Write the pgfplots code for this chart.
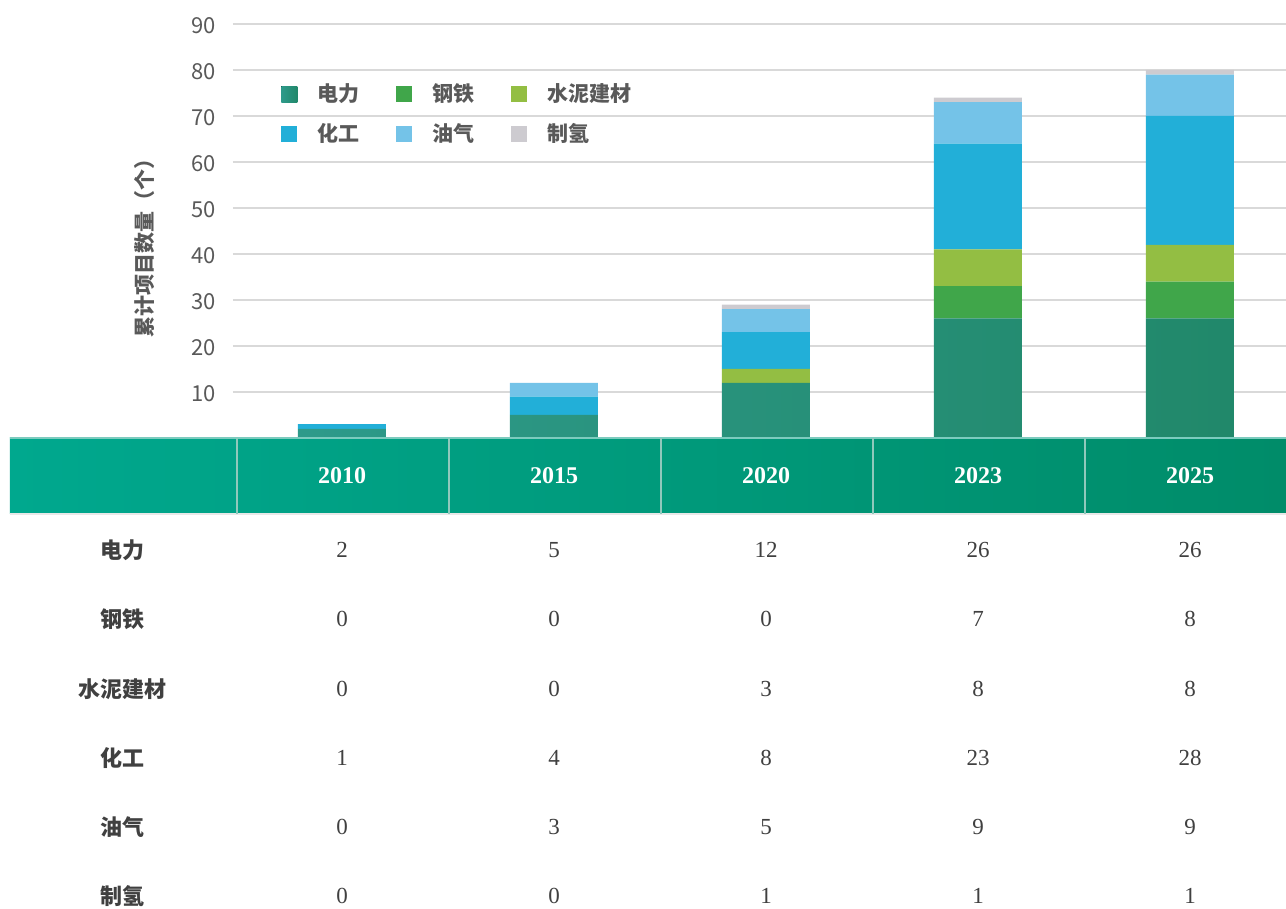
\documentclass[border=0pt]{standalone}
\usepackage{fontspec}
\setmainfont{Liberation Serif}
\newfontfamily\cjk{Noto Sans CJK SC}
\usepackage{pgfplots}
\pgfplotsset{compat=1.18}
\usepackage{pgfplotstable}

\definecolor{powerL}{HTML}{2E9A8A}
\definecolor{powerR}{HTML}{21886A}
\definecolor{steel}{HTML}{40A64A}
\definecolor{cement}{HTML}{93BE43}
\definecolor{chem}{HTML}{22AFD8}
\definecolor{oil}{HTML}{74C3E8}
\definecolor{htwo}{HTML}{CDCBD0}
\definecolor{gridgray}{HTML}{D9D9D9}
\definecolor{tickgray}{HTML}{595959}
\definecolor{txt}{HTML}{404040}
\definecolor{hdrL}{HTML}{00A88E}
\definecolor{hdrR}{HTML}{008C69}
\definecolor{hdrline}{HTML}{7CCBBE}
\definecolor{sepgray}{HTML}{8FC9BC}

% cumulative projects per sector
\pgfplotstableread{
x power steel cement chem oil htwo
0 2  0 0 1  0 0
1 5  0 0 4  3 0
2 12 0 3 8  5 1
3 26 7 8 23 9 1
4 26 8 8 28 9 1
}\projects

\newcommand{\tabrow}[3]{%
  \node[font=\cjk\bfseries\fontsize{11}{13}\selectfont, text=txt] at (-55pt,#2) {#1};
  \foreach \v [count=\i from 0] in {#3}
    \node[font=\fontsize{11.5}{13}\selectfont, text=txt] at ({54.5pt+106pt*\i},#2) {\v};
}

\begin{document}
\begin{tikzpicture}
\useasboundingbox (-116.5pt,-235.5pt) rectangle (526.5pt,219pt);
\begin{axis}[
    scale only axis,
    width=526.5pt, height=207pt,
    xmin=-0.514, xmax=4.453,
    ymin=0, ymax=90,
    ybar stacked,
    bar width=44pt,
    xtick=\empty,
    ytick={10,20,...,90},
    ymajorgrids,
    grid style={color=gridgray, line width=1pt},
    axis line style={draw=none},
    major tick length=0pt,
    /pgf/number format/assume math mode=true,
    yticklabel style={font=\cjk\fontsize{11}{13}\selectfont, text=tickgray, inner sep=0pt, xshift=-8.5pt, yshift=-1pt},
    clip=false,
    legend columns=3,
    legend cell align=left,
    legend image code/.code={\fill[#1] (0pt,-4pt) rectangle (8pt,4pt);},
    legend style={
        at={(0.0455,0.866)}, anchor=north west,
        draw=none, fill=none, inner sep=0pt,
        font=\cjk\bfseries\fontsize{10.5}{12}\selectfont, text=tickgray,
        /tikz/every odd column/.append style={column sep=8pt},
        /tikz/every even column/.append style={column sep=16.5pt},
        row sep=5.5pt,
    },
]
\addplot[left color=powerL, right color=powerR, draw=none] table[x=x, y=power] {\projects};
\addplot[fill=steel, draw=none] table[x=x, y=steel] {\projects};
\addplot[fill=cement, draw=none] table[x=x, y=cement] {\projects};
\addplot[fill=chem, draw=none] table[x=x, y=chem] {\projects};
\addplot[fill=oil, draw=none] table[x=x, y=oil] {\projects};
\addplot[fill=htwo, draw=none] table[x=x, y=htwo] {\projects};
\legend{电力, 钢铁, 水泥建材, 化工, 油气, 制氢}
\end{axis}

\node[rotate=90, font=\cjk\bfseries\fontsize{10.5}{12}\selectfont, text=tickgray] at (-44pt,97.5pt) {累计项目数量（个）};

% table header
\fill[left color=hdrL, right color=hdrR] (-111.5pt,0pt) rectangle (526.5pt,-38pt);
\draw[hdrline, line width=0.8pt] (-111.5pt,0pt) -- (526.5pt,0pt);
\draw[gridgray!60, line width=0.8pt] (-111.5pt,-38pt) -- (526.5pt,-38pt);
\foreach \i in {0,...,4}
  \draw[sepgray, line width=0.6pt] ({2pt+106pt*\i},0pt) -- ({2pt+106pt*\i},-38pt);
\foreach \yr [count=\i from 0] in {2010,2015,2020,2023,2025}
  \node[text=white, font=\bfseries\fontsize{12}{14}\selectfont] at ({54.5pt+106pt*\i},-19pt) {\yr};

% table rows
\tabrow{电力}{-56pt}{2,5,12,26,26}
\tabrow{钢铁}{-90.5pt}{0,0,0,7,8}
\tabrow{水泥建材}{-125.5pt}{0,0,3,8,8}
\tabrow{化工}{-160pt}{1,4,8,23,28}
\tabrow{油气}{-194.5pt}{0,3,5,9,9}
\tabrow{制氢}{-229pt}{0,0,1,1,1}
\end{tikzpicture}
\end{document}
